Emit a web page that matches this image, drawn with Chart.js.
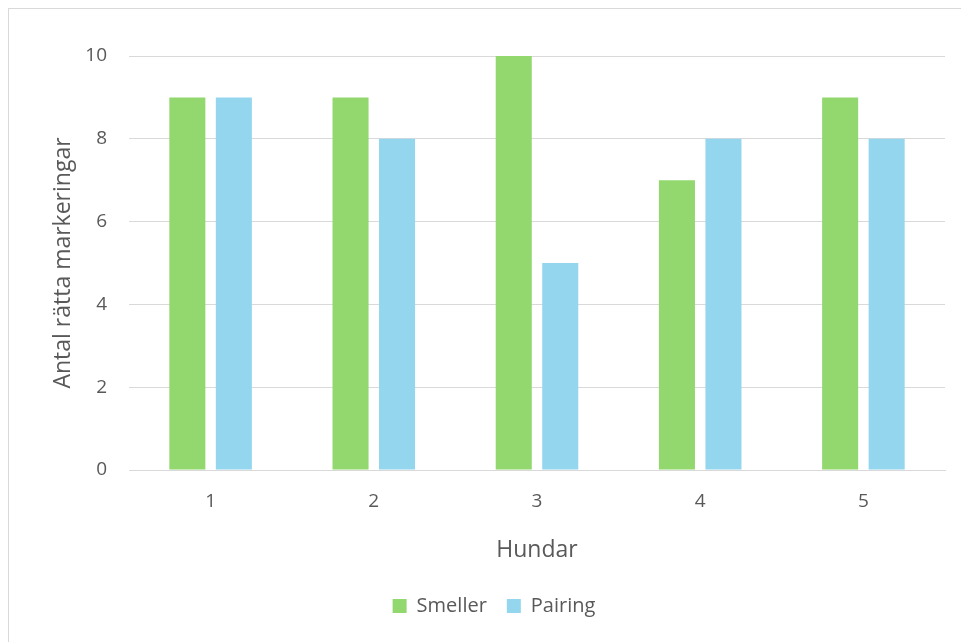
<!DOCTYPE html>
<html>
<head>
<meta charset="utf-8">
<script src="https://cdn.jsdelivr.net/npm/chart.js@4.4.1/dist/chart.umd.min.js"></script>
<style>
  html, body { margin: 0; padding: 0; background: #fff; }
  #frame {
    position: absolute; left: 8px; top: 8px;
    width: 952px; height: 633px;
    border-left: 1px solid #d9d9d9; border-top: 1px solid #d9d9d9;
  }
  #chart { display: block; }
</style>
</head>
<body>
<div id="frame"><canvas id="chart" width="952" height="633"></canvas></div>
<script>
// Dogs (x categories) and correct markings per method
const hundar = ['1', '2', '3', '4', '5'];
const smeller = [9, 9, 10, 7, 9];
const pairing = [9, 8, 5, 8, 8];
const yTicks = [0, 2, 4, 6, 8, 10];

const textColor = '#595959';
const gridColor = '#d9d9d9';
const fontFamily = "'Open Sans', 'Liberation Sans', sans-serif";

new Chart(document.getElementById('chart'), {
  type: 'bar',
  data: {
    labels: hundar,
    datasets: [
      { label: 'Smeller', data: smeller, backgroundColor: '#92d86f',
        categoryPercentage: 0.57, barPercentage: 0.775 },
      { label: 'Pairing', data: pairing, backgroundColor: '#94d6ee',
        categoryPercentage: 0.57, barPercentage: 0.775 }
    ]
  },
  options: {
    responsive: false,
    animation: false,
    layout: { padding: { top: 47, right: 16, bottom: 16, left: 34 } },
    plugins: {
      tooltip: { enabled: false },
      legend: {
        position: 'bottom',
        labels: {
          color: textColor,
          font: { family: fontFamily, size: 20 },
          boxWidth: 14, boxHeight: 14,
          padding: 20
        }
      }
    },
    scales: {
      x: {
        afterFit: (scale) => { scale.height = 106; },
        grid: { display: false, drawTicks: false },
        border: { display: true, color: gridColor, width: 1 },
        ticks: { color: textColor, font: { family: fontFamily, size: 19 }, padding: 20 },
        title: { display: true, text: 'Hundar', color: textColor,
                 font: { family: fontFamily, size: 23 }, padding: { top: 0, bottom: 12 } }
      },
      y: {
        min: 0, max: 10,
        afterBuildTicks: (scale) => { scale.ticks = yTicks.map(v => ({ value: v })); },
        afterFit: (scale) => { scale.width = 86; },
        grid: { color: gridColor, lineWidth: 1, drawTicks: false },
        border: { display: false },
        ticks: { color: textColor, font: { family: fontFamily, size: 19 }, padding: 22 },
        title: { display: true, text: 'Antal rätta markeringar', color: textColor,
                 font: { family: fontFamily, size: 23 }, padding: { top: 7, bottom: 0 } }
      }
    }
  }
});
</script>
</body>
</html>
